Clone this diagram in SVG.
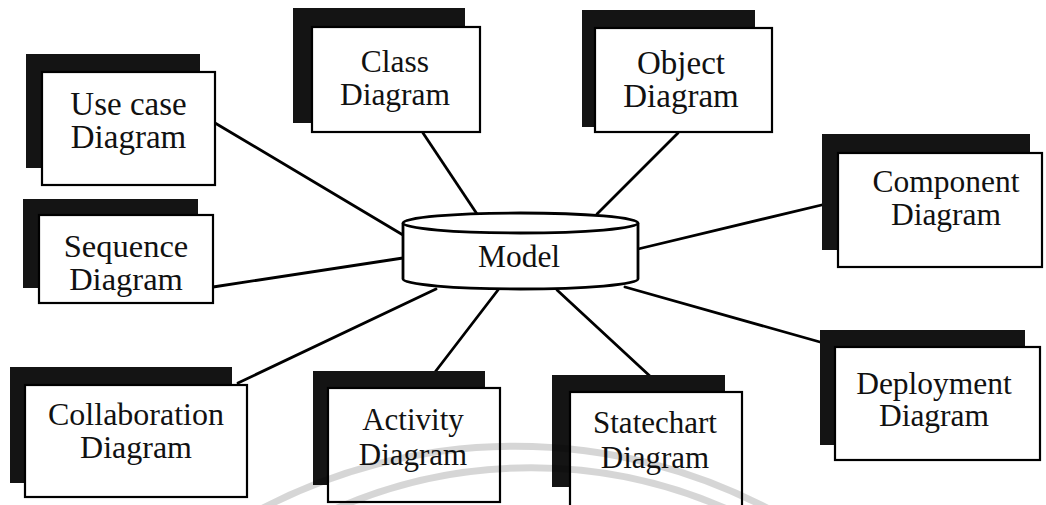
<svg xmlns="http://www.w3.org/2000/svg" width="1046" height="505" viewBox="0 0 1046 505">
<style>
.bg{fill:#fff}
.sh{fill:#141414}
.bx{fill:#fff;stroke:#000;stroke-width:2.2}
.t{font-family:"Liberation Serif","Times New Roman",serif;fill:#111;text-anchor:middle}
.cn line{stroke:#000;stroke-width:2.8;stroke-linecap:round}
.cyl{fill:#fff;stroke:#000;stroke-width:2.8}
.wm{fill:none;stroke:#000;stroke-opacity:0.16;stroke-width:7}
</style>
<rect class="bg" x="0" y="0" width="1046" height="505"/>
<g id="connectors" class="cn">
<line x1="215" y1="123" x2="403" y2="235"/>
<line x1="213" y1="287" x2="403" y2="258"/>
<line x1="423" y1="133" x2="477" y2="214"/>
<line x1="678" y1="133" x2="597" y2="214"/>
<line x1="638" y1="249" x2="830" y2="203"/>
<line x1="238" y1="383" x2="436" y2="289"/>
<line x1="432" y1="376" x2="498" y2="290"/>
<line x1="652" y1="378" x2="557" y2="290"/>
<line x1="820" y1="342" x2="625" y2="287"/>
</g>
<g id="model">
<path class="cyl" d="M403,223 L403,279 A117.5,10 0 0 0 638,279 L638,223"/>
<ellipse class="cyl" cx="520.5" cy="223" rx="117.5" ry="10"/>
<text class="t" x="519" y="267" font-size="31.5">Model</text>
</g>
<g id="usecase">
<rect class="sh" x="26" y="54" width="174" height="114"/>
<rect class="bx" x="42" y="72" width="173" height="113"/>
<text class="t" x="128.5" y="115" font-size="33">Use case</text>
<text class="t" x="128.5" y="148" font-size="33">Diagram</text>
</g>
<g id="sequence">
<rect class="sh" x="23" y="199" width="175" height="89"/>
<rect class="bx" x="39" y="215" width="174" height="88"/>
<text class="t" x="126" y="257" font-size="32.5">Sequence</text>
<text class="t" x="126" y="290" font-size="32.5">Diagram</text>
</g>
<g id="class">
<rect class="sh" x="293" y="8" width="172" height="115"/>
<rect class="bx" x="312" y="27" width="168" height="105"/>
<text class="t" x="395" y="72" font-size="31.5">Class</text>
<text class="t" x="395" y="105" font-size="31.5">Diagram</text>
</g>
<g id="object">
<rect class="sh" x="582" y="10" width="173" height="117"/>
<rect class="bx" x="595" y="28" width="177" height="104"/>
<text class="t" x="681" y="74" font-size="33">Object</text>
<text class="t" x="681" y="107" font-size="33">Diagram</text>
</g>
<g id="component">
<rect class="sh" x="822" y="134" width="208" height="116"/>
<rect class="bx" x="838" y="153" width="204" height="114"/>
<text class="t" x="946" y="192" font-size="31.5">Component</text>
<text class="t" x="946" y="225" font-size="31.5">Diagram</text>
</g>
<g id="deployment">
<rect class="sh" x="820" y="330" width="205" height="115"/>
<rect class="bx" x="835" y="347" width="205" height="113"/>
<text class="t" x="934" y="394" font-size="31.5">Deployment</text>
<text class="t" x="934" y="426" font-size="31.5">Diagram</text>
</g>
<g id="statechart">
<rect class="sh" x="552" y="375" width="173" height="112"/>
<rect class="bx" x="570" y="392" width="172" height="120"/>
<text class="t" x="655" y="433" font-size="31">Statechart</text>
<text class="t" x="655" y="468" font-size="31">Diagram</text>
</g>
<g id="activity">
<rect class="sh" x="313" y="371" width="172" height="114"/>
<rect class="bx" x="328" y="388" width="172" height="114"/>
<text class="t" x="413" y="430" font-size="31">Activity</text>
<text class="t" x="413" y="465" font-size="31">Diagram</text>
</g>
<g id="collaboration">
<rect class="sh" x="10" y="367" width="222" height="116"/>
<rect class="bx" x="25" y="385" width="222" height="112"/>
<text class="t" x="136" y="425" font-size="32">Collaboration</text>
<text class="t" x="136" y="458" font-size="32">Diagram</text>
</g>
<g id="watermark">
<path class="wm" d="M250,515 A545,545 0 0 1 780,515"/>
<path class="wm" d="M322,515 A486,486 0 0 1 740,515"/>
</g>
</svg>
